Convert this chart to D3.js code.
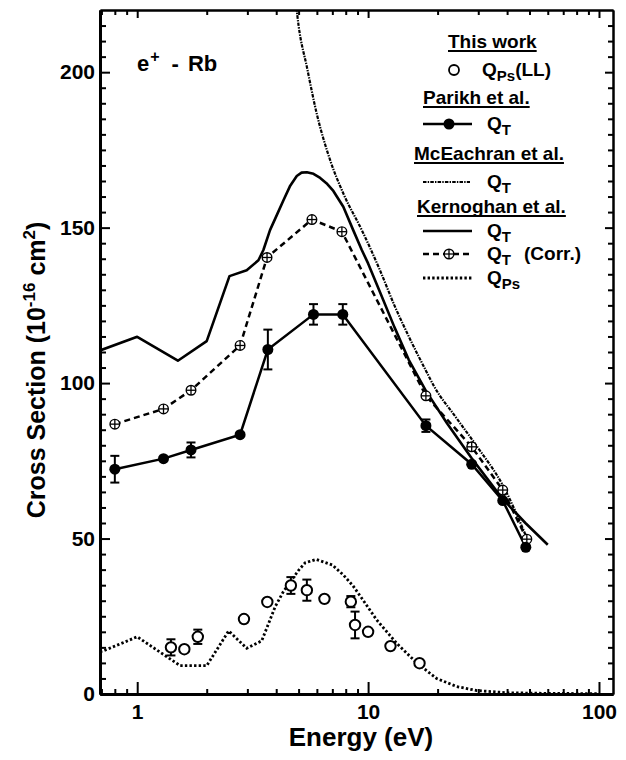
<!DOCTYPE html>
<html>
<head>
<meta charset="utf-8">
<script src="https://cdn.jsdelivr.net/npm/d3@7"></script>
<style>
  body { margin: 0; background: #fff; }
  svg { display: block; font-family: "Liberation Sans", Arial, Helvetica, sans-serif; font-weight: bold; }
</style>
</head>
<body>
<svg id="chart" width="626" height="760"></svg>
<script>
// This work: Q_Ps(LL), open circles
const llE = [1.40, 1.60, 1.83, 2.90, 3.66, 4.63, 5.43, 6.47, 8.42, 8.78, 10.0, 12.5, 16.7];
const llQ = [15.0, 14.4, 18.4, 24.1, 29.6, 34.9, 33.4, 30.6, 29.7, 22.2, 20.0, 15.4, 9.9];
const llErr = [2.6, 0, 2.3, 0, 0, 2.7, 3.4, 0, 1.8, 4.3, 0, 0, 0];

// Parikh et al. Q_T, filled circles
const parikhE = [0.80, 1.30, 1.71, 2.79, 3.68, 5.80, 7.77, 17.8, 28.1, 38.3, 48.2];
const parikhQ = [72.3, 75.7, 78.5, 83.4, 110.8, 122.1, 122.1, 86.3, 73.9, 62.2, 47.2];
const parikhErr = [4.3, 0, 2.4, 0, 6.4, 3.3, 3.3, 2.0, 0, 0, 0];

// McEachran et al. Q_T, dash-dot
const mcE = [4.75, 5.0, 5.43, 5.99, 6.85, 7.81, 9.39, 10.2, 11.3, 13, 15, 17.8, 19.3, 24, 29.5, 38.4, 48.5];
const mcQ = [230, 215, 201.7, 186.7, 171.7, 161, 149.2, 143.5, 136, 125, 115, 104, 99, 89, 79.8, 67, 50.5];

// Kernoghan et al. Q_T, solid
const kernE = [0.69, 1.0, 1.5, 2.0, 2.51, 2.98, 3.35, 3.52, 3.76, 4.05, 4.30, 4.60, 4.91, 5.15, 5.43, 5.80, 6.20, 6.60, 7.07, 7.81, 8.62, 9.39, 10, 11.3, 13, 15, 17.8, 22, 28, 38, 48, 60];
const kernQ = [110.5, 114.9, 107.2, 113.5, 134.4, 136.3, 139.5, 142.8, 149.2, 154.5, 158.8, 163.5, 166.6, 167.7, 167.8, 167.3, 166.0, 164.3, 161.8, 156.7, 149.2, 142.8, 138.5, 129, 118, 107.5, 97.5, 87, 76, 63, 55, 48];

// Kernoghan et al. Q_T (Corr.), dashed with crossed circles
const corrE = [0.80, 1.30, 1.71, 2.79, 3.65, 5.71, 7.70, 17.8, 28.1, 38.3, 48.7];
const corrQ = [86.8, 91.7, 97.7, 112.1, 140.4, 152.6, 148.7, 95.9, 79.5, 65.6, 49.8];

// Kernoghan et al. Q_Ps, dotted
const psE = [0.69, 0.715, 1.0, 1.535, 2.0, 2.49, 2.98, 3.46, 3.70, 3.96, 4.30, 4.67, 5.00, 5.34, 5.96, 7.0, 7.81, 8.6, 9.39, 10.9, 13.3, 16.3, 19.8, 24.2, 29.6, 40, 60, 100];
const psQ = [13.6, 13.9, 18.4, 9.1, 9.1, 20.3, 14.7, 17.1, 22.5, 28.1, 33.0, 36.7, 39.8, 42.2, 43.3, 41.5, 38.3, 34.8, 30.8, 23.8, 16.3, 9.9, 5.0, 2.4, 1.1, 0.4, 0.2, 0.1];

const xMajor = [1, 10, 100];
const xMinor = [0.7, 0.8, 0.9, 2, 3, 4, 5, 6, 7, 8, 9, 20, 30, 40, 50, 60, 70, 80, 90];
const yMajor = [0, 50, 100, 150, 200];
const yMinor = d3.range(5, 220, 5).filter(v => v % 50 !== 0);

const svg = d3.select('#chart');
const L = 100, R = 613, T = 10, B = 694;

const x = d3.scaleLog().domain([0.69, 115]).range([L, R]);
const y = d3.scaleLinear().domain([0, 220]).range([B, T]);

const zip = (a, b, e) => a.map((v, i) => ({ e: v, q: b[i], err: e ? e[i] : 0 }));

svg.append('clipPath').attr('id', 'clip')
  .append('rect').attr('x', L).attr('y', T).attr('width', R - L).attr('height', B - T);

const plot = svg.append('g').attr('clip-path', 'url(#clip)');

const smooth = d3.line().x(d => x(d.e)).y(d => y(d.q)).curve(d3.curveMonotoneX);
const straight = d3.line().x(d => x(d.e)).y(d => y(d.q));

const dashDot = '3.5,1.2,1.4,1.2';

// theory curves
plot.append('path').datum(zip(mcE, mcQ))
  .attr('d', smooth).attr('fill', 'none').attr('stroke', '#000')
  .attr('stroke-width', 2.2).attr('stroke-dasharray', dashDot);

plot.append('path').datum(zip(kernE, kernQ))
  .attr('d', straight).attr('fill', 'none').attr('stroke', '#000')
  .attr('stroke-width', 2.6).attr('stroke-linejoin', 'round');

plot.append('path').datum(zip(psE, psQ))
  .attr('d', straight).attr('fill', 'none').attr('stroke', '#000')
  .attr('stroke-width', 2.8).attr('stroke-dasharray', '2.4,2.2');

plot.append('path').datum(zip(corrE, corrQ))
  .attr('d', straight).attr('fill', 'none').attr('stroke', '#000')
  .attr('stroke-width', 2.5).attr('stroke-dasharray', '6,4');

plot.append('path').datum(zip(parikhE, parikhQ))
  .attr('d', straight).attr('fill', 'none').attr('stroke', '#000')
  .attr('stroke-width', 2.5);

function errorBars(data) {
  const g = plot.append('g').attr('stroke', '#000').attr('stroke-width', 2);
  data.filter(d => d.err > 0).forEach(d => {
    const cx = x(d.e);
    g.append('line').attr('x1', cx).attr('x2', cx).attr('y1', y(d.q - d.err)).attr('y2', y(d.q + d.err));
    g.append('line').attr('x1', cx - 4.5).attr('x2', cx + 4.5).attr('y1', y(d.q - d.err)).attr('y2', y(d.q - d.err));
    g.append('line').attr('x1', cx - 4.5).attr('x2', cx + 4.5).attr('y1', y(d.q + d.err)).attr('y2', y(d.q + d.err));
  });
}

function crossCircle(g, cx, cy) {
  g.append('circle').attr('cx', cx).attr('cy', cy).attr('r', 4.8)
    .attr('fill', '#fff').attr('stroke', '#000').attr('stroke-width', 1.4);
  g.append('line').attr('x1', cx - 4.8).attr('x2', cx + 4.8).attr('y1', cy).attr('y2', cy)
    .attr('stroke', '#000').attr('stroke-width', 1.3);
  g.append('line').attr('x1', cx).attr('x2', cx).attr('y1', cy - 4.8).attr('y2', cy + 4.8)
    .attr('stroke', '#000').attr('stroke-width', 1.3);
}

// markers
const corrG = plot.append('g');
zip(corrE, corrQ).forEach(d => crossCircle(corrG, x(d.e), y(d.q)));

const parikh = zip(parikhE, parikhQ, parikhErr);
errorBars(parikh);
plot.append('g').selectAll('circle').data(parikh).join('circle')
  .attr('cx', d => x(d.e)).attr('cy', d => y(d.q)).attr('r', 5.5).attr('fill', '#000');

const ll = zip(llE, llQ, llErr);
errorBars(ll);
plot.append('g').selectAll('circle').data(ll).join('circle')
  .attr('cx', d => x(d.e)).attr('cy', d => y(d.q)).attr('r', 5.2)
  .attr('fill', '#fff').attr('stroke', '#000').attr('stroke-width', 2);

// axes
function styleAxis(g, w) {
  g.selectAll('.tick line').attr('stroke-width', 2);
  g.select('.domain').attr('stroke-width', w);
  g.selectAll('text').attr('font-size', 21).attr('font-weight', 'bold').attr('fill', '#000')
    .attr('font-family', '"Liberation Sans", Arial, sans-serif');
}

svg.append('g').attr('transform', `translate(0,${T})`)
  .call(d3.axisTop(x).tickValues(xMinor).tickSize(-5).tickSizeOuter(0).tickFormat(''))
  .call(g => styleAxis(g, 2));
svg.append('g').attr('transform', `translate(0,${T})`)
  .call(d3.axisTop(x).tickValues(xMajor).tickSize(-8).tickSizeOuter(0).tickFormat(''))
  .call(g => styleAxis(g, 2));

svg.append('g').attr('transform', `translate(${R},0)`)
  .call(d3.axisRight(y).tickValues(yMinor).tickSize(-5).tickSizeOuter(0).tickFormat(''))
  .call(g => styleAxis(g, 2));
svg.append('g').attr('transform', `translate(${R},0)`)
  .call(d3.axisRight(y).tickValues(yMajor).tickSize(-8).tickSizeOuter(0).tickFormat(''))
  .call(g => styleAxis(g, 2));

svg.append('g').attr('transform', `translate(0,${B})`)
  .call(d3.axisBottom(x).tickValues(xMinor).tickSize(-5).tickSizeOuter(0).tickFormat(''))
  .call(g => styleAxis(g, 3));
svg.append('g').attr('transform', `translate(0,${B})`)
  .call(d3.axisBottom(x).tickValues(xMajor).tickSize(-12).tickSizeOuter(0).tickPadding(10).tickFormat(d3.format('d')))
  .call(g => styleAxis(g, 3));

svg.append('g').attr('transform', `translate(${L},0)`)
  .call(d3.axisLeft(y).tickValues(yMinor).tickSize(-6).tickSizeOuter(0).tickFormat(''))
  .call(g => styleAxis(g, 3));
svg.append('g').attr('transform', `translate(${L},0)`)
  .call(d3.axisLeft(y).tickValues(yMajor).tickSize(-10).tickSizeOuter(0).tickPadding(5).tickFormat(d3.format('d')))
  .call(g => styleAxis(g, 3));

// axis titles
svg.append('text').attr('x', 361).attr('y', 746).attr('text-anchor', 'middle')
  .attr('font-size', 26).text('Energy (eV)');

const yt = svg.append('text').attr('transform', 'translate(45,370) rotate(-90)')
  .attr('text-anchor', 'middle').attr('font-size', 25);
yt.append('tspan').text('Cross Section (10');
yt.append('tspan').attr('font-size', 17).attr('dy', -10).text('-16');
yt.append('tspan').attr('dy', 10).text(' cm');
yt.append('tspan').attr('font-size', 17).attr('dy', -10).text('2');
yt.append('tspan').attr('dy', 10).text(')');

// reaction label
const rl = svg.append('text').attr('x', 137).attr('y', 71).attr('font-size', 22);
rl.append('tspan').text('e');
rl.append('tspan').attr('font-size', 16).attr('dy', -9).attr('dx', 1).text('+');
rl.append('tspan').attr('dy', 9).attr('dx', 12).text('-');
rl.append('tspan').attr('dx', 9).text('Rb');

// legend
const leg = svg.append('g').attr('font-size', 19);

function header(txt, xs, yb) {
  const t = leg.append('text').attr('x', xs).attr('y', yb).text(txt);
  const w = t.node().getComputedTextLength();
  leg.append('line').attr('x1', xs).attr('x2', xs + w).attr('y1', yb + 3).attr('y2', yb + 3)
    .attr('stroke', '#000').attr('stroke-width', 2);
}

function qlabel(xs, yb, sub, rest) {
  const t = leg.append('text').attr('x', xs).attr('y', yb);
  t.append('tspan').text('Q');
  t.append('tspan').attr('font-size', 15).attr('dy', 5).text(sub);
  if (rest) t.append('tspan').attr('dy', -5).text(rest);
}

header('This work', 448, 48);
leg.append('circle').attr('cx', 454).attr('cy', 70).attr('r', 5)
  .attr('fill', '#fff').attr('stroke', '#000').attr('stroke-width', 1.8);
qlabel(482, 76, 'Ps', '(LL)');

header('Parikh et al.', 423, 104);
leg.append('line').attr('x1', 423).attr('x2', 472).attr('y1', 124).attr('y2', 124)
  .attr('stroke', '#000').attr('stroke-width', 2.5);
leg.append('circle').attr('cx', 449).attr('cy', 124).attr('r', 5.5).attr('fill', '#000');
qlabel(487, 130, 'T');

header('McEachran et al.', 414, 160);
leg.append('line').attr('x1', 423).attr('x2', 470).attr('y1', 182).attr('y2', 182)
  .attr('stroke', '#000').attr('stroke-width', 2.2).attr('stroke-dasharray', dashDot);
qlabel(487, 188, 'T');

header('Kernoghan et al.', 417, 213);
leg.append('line').attr('x1', 423).attr('x2', 472).attr('y1', 231).attr('y2', 231)
  .attr('stroke', '#000').attr('stroke-width', 2.5);
qlabel(487, 237, 'T');

leg.append('line').attr('x1', 423).attr('x2', 472).attr('y1', 254).attr('y2', 254)
  .attr('stroke', '#000').attr('stroke-width', 2.5).attr('stroke-dasharray', '6,4');
crossCircle(leg, 449, 254);
qlabel(487, 260, 'T');
leg.append('text').attr('x', 524).attr('y', 260).text('(Corr.)');

leg.append('line').attr('x1', 423).attr('x2', 472).attr('y1', 278).attr('y2', 278)
  .attr('stroke', '#000').attr('stroke-width', 2.8).attr('stroke-dasharray', '2.4,2.2');
qlabel(487, 284, 'Ps');
</script>
</body>
</html>
